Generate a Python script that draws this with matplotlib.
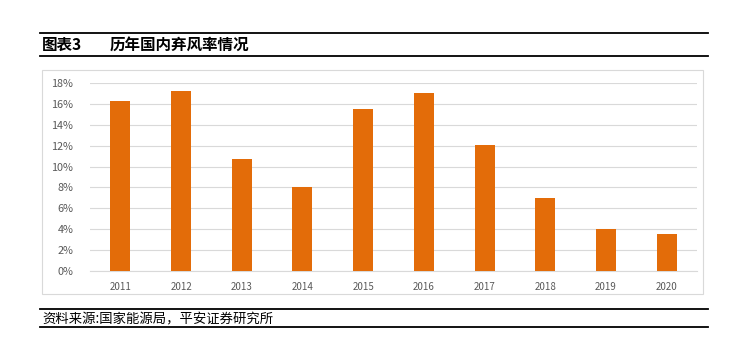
import matplotlib
matplotlib.use("Agg")
import matplotlib.pyplot as plt
from matplotlib.lines import Line2D
from matplotlib.patches import Rectangle

plt.rcParams['font.family'] = ['Noto Sans CJK SC', 'DejaVu Sans']

years = ["2011", "2012", "2013", "2014", "2015", "2016", "2017", "2018", "2019", "2020"]
rates = [16.3, 17.2, 10.7, 8.0, 15.5, 17.0, 12.1, 7.0, 4.0, 3.5]
yticks = [0, 2, 4, 6, 8, 10, 12, 14, 16, 18]
title_num = "图表3"
title_text = "历年国内弃风率情况"
source_text = "资料来源:国家能源局，平安证券研究所"

W, H = 731, 353
fig = plt.figure(figsize=(W / 100, H / 100), dpi=100)

def fx(px):
    return px / W

def fy(py):
    return 1 - py / H

# header / footer rules
for y, lw in [(32.7, 1.3), (56, 1.3), (309.3, 1.3), (327.3, 1.3)]:
    fig.add_artist(Line2D([fx(40), fx(708)], [fy(y), fy(y)], color='black', lw=lw))

fig.text(fx(42), fy(45), title_num, fontsize=11.2, fontweight='bold', va='center', ha='left')
fig.text(fx(110), fy(45), title_text, fontsize=11.2, fontweight='bold', va='center', ha='left')
fig.text(fx(42), fy(319), source_text, fontsize=9.6, style='italic', va='center', ha='left')

# chart frame
fig.add_artist(Rectangle((fx(41.5), fy(294)), fx(702.5) - fx(41.5), fy(70) - fy(294),
                         fill=False, edgecolor='#d9d9d9', lw=0.8))

ax = fig.add_axes([fx(90), fy(271), fx(697) - fx(90), fy(83) - fy(271)])
x = list(range(len(years)))
ax.bar(x, rates, width=0.33, color='#E36C09', zorder=3)
ax.set_xlim(-0.5, len(years) - 0.5)
ax.set_ylim(0, 18)
ax.set_yticks(yticks)
ax.set_yticklabels([f"{t}%" for t in yticks], fontsize=7.8, color='#595959')
ax.set_xticks(x)
ax.set_xticklabels(years, fontsize=7, color='#595959')
ax.tick_params(length=0, pad=8)
ax.tick_params(axis='y', pad=12)
ax.grid(axis='y', color='#d9d9d9', lw=0.8, zorder=0)
for s in ['top', 'right', 'left']:
    ax.spines[s].set_visible(False)
ax.spines['bottom'].set_color('#d9d9d9')
ax.spines['bottom'].set_linewidth(0.8)

fig.savefig("out.png", dpi=100)
